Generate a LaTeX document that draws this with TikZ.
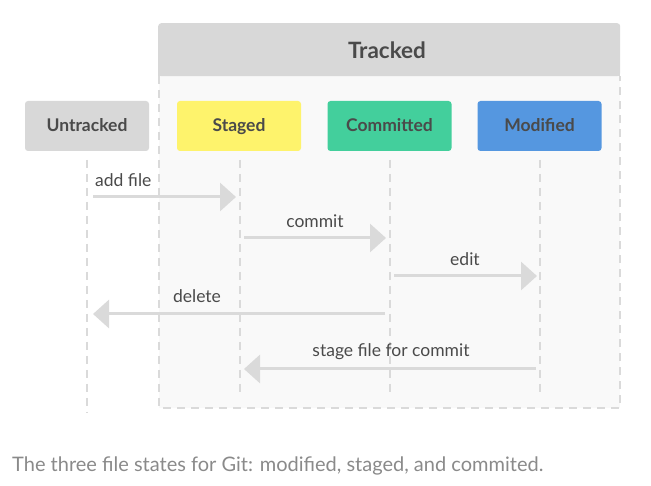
\documentclass[tikz,border=0pt]{standalone}
\usepackage{fontspec}
\setmainfont{Lato}
\usetikzlibrary{arrows.meta}
\definecolor{hdr}{HTML}{D8D8D8}
\definecolor{panel}{HTML}{F9F9F9}
\definecolor{yel}{HTML}{FEF36C}
\definecolor{grn}{HTML}{43CF9C}
\definecolor{blu}{HTML}{5597E0}
\definecolor{ln}{HTML}{DADADA}
\definecolor{txt}{HTML}{4A4A4A}
\definecolor{cap}{HTML}{8A8A8A}
\tikzset{
  statebox/.style={rounded corners=3pt, minimum width=124pt, minimum height=50pt, inner sep=0pt,
    text height=14pt, text depth=2pt,
    font=\fontsize{17.5}{20}\selectfont\bfseries, text=txt},
  lifeline/.style={draw=ln, line width=2pt, dash pattern=on 8pt off 6pt},
  flow/.style={draw=ln, line width=3pt, -{Triangle[length=16pt,width=28pt]}, shorten >=0pt},
  flowlabel/.style={font=\fontsize{17.5}{20}\selectfont, text=txt, inner sep=0pt,
    text height=12.5pt, text depth=3.5pt}
}
\begin{document}
\begin{tikzpicture}[x=1pt,y=-1pt]
\useasboundingbox (0,0) rectangle (651,486);
% panel
\fill[panel] (159,76) rectangle (620,408);
\draw[lifeline] (159,76) -- (159,408) -- (620,408) -- (620,76);
\node[fill=hdr, rounded corners=3pt, minimum width=462pt, minimum height=53pt, inner sep=0pt, anchor=north west] (tracked) at (158,23) {};
\fill[hdr] (158,50) rectangle (620,76);
\node[font=\fontsize{22.5}{26}\selectfont\bfseries, text=txt] (trackedlabel) at (387,50) {Tracked};
% state boxes
\node[statebox, fill=hdr] (untracked) at (87,126) {Untracked};
\node[statebox, fill=yel] (staged) at (239,126) {Staged};
\node[statebox, fill=grn] (committed) at (389.5,126) {Committed};
\node[statebox, fill=blu] (modified) at (539.5,126) {Modified};
% lifelines
\coordinate (u1) at (87,160); \coordinate (u2) at (87,413);
\coordinate (s1) at (240,160); \coordinate (s2) at (240,395);
\coordinate (c1) at (390,160); \coordinate (c2) at (390,395);
\coordinate (m1) at (540,160); \coordinate (m2) at (540,395);
\draw[lifeline] (u1) -- (u2);
\draw[lifeline] (s1) -- (s2);
\draw[lifeline] (c1) -- (c2);
\draw[lifeline] (m1) -- (m2);
% arrows
\coordinate (a1s) at (93,197); \coordinate (a1e) at (236,197);
\coordinate (a2s) at (244,238); \coordinate (a2e) at (386,238);
\coordinate (a3s) at (394,276); \coordinate (a3e) at (537,276);
\coordinate (a4s) at (385,314); \coordinate (a4e) at (93,314);
\coordinate (a5s) at (536,369); \coordinate (a5e) at (244,369);
\draw[flow] (a1s) -- (a1e);
\draw[flow] (a2s) -- (a2e);
\draw[flow] (a3s) -- (a3e);
\draw[flow] (a4s) -- (a4e);
\draw[flow] (a5s) -- (a5e);
\node[flowlabel, anchor=west] (l1) at (95,182) {add file};
\node[flowlabel] (l2) at (315,223) {commit};
\node[flowlabel] (l3) at (465,261) {edit};
\node[flowlabel] (l4) at (197,298) {delete};
\node[flowlabel] (l5) at (391,352) {stage file for commit};
% caption
\node[font=\fontsize{20}{24}\selectfont, text=cap, anchor=base west, inner sep=0pt] (caption) at (12,471)
  {The three file states for Git: modified, staged, and commited.};
\end{tikzpicture}
\end{document}
